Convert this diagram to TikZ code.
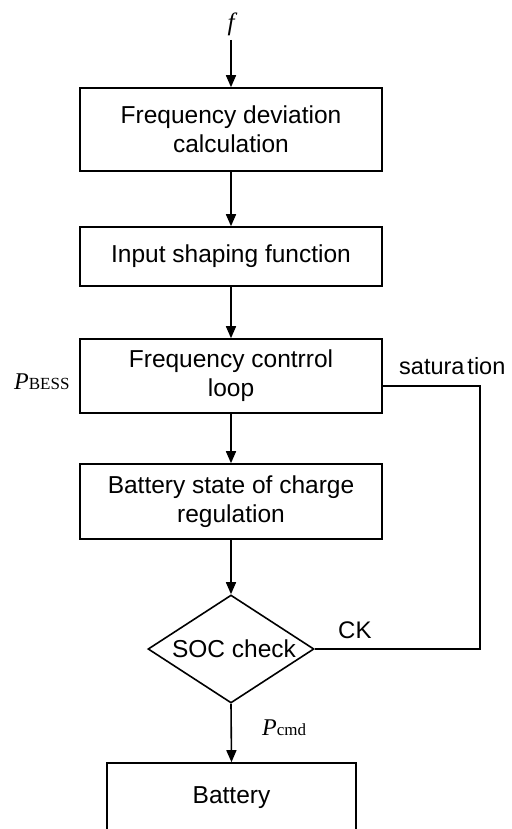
\documentclass[tikz,border=0pt]{standalone}
\usepackage{fontspec}
\setmainfont{Liberation Sans}
\newfontfamily\tnr{Liberation Serif}
\usetikzlibrary{arrows.meta,shapes.geometric}
\tikzset{
  blk/.style={draw,line width=1.6pt,rectangle,minimum width=302pt,align=center,inner sep=0pt,
    font=\fontsize{24.5}{29}\selectfont},
  lnk/.style={line width=1.6pt,-{Triangle[length=12pt,width=10pt]}},
  fb/.style={line width=1.6pt},
  lbl/.style={inner sep=0pt,anchor=base west,font=\fontsize{24}{29}\selectfont},
  mth/.style={inner sep=0pt,anchor=base west,font=\tnr\fontsize{24}{28}\selectfont}
}
\newcommand{\sbs}[1]{{\fontsize{17}{19}\selectfont #1}}
\begin{document}
\begin{tikzpicture}[x=1pt,y=-1pt]
\useasboundingbox (0,0) rectangle (511,829);
\clip (0,0) rectangle (511,829);
\node[inner sep=0pt,anchor=base,font=\tnr\itshape\fontsize{25}{28}\selectfont] (f) at (231,31) {f};
\coordinate (fs) at (231,40);
\node[blk,minimum height=83pt] (b1) at (231,129.5) {Frequency deviation\\calculation};
\node[blk,minimum height=59pt] (b2) at (231,256.5) {Input shaping function};
\node[blk,minimum height=74pt] (b3) at (231,376) {Frequency contrrol\\loop};
\node[blk,minimum height=75pt] (b4) at (231,501.5) {Battery state of charge\\regulation};
\node[draw,line width=1.6pt,diamond,shape aspect=1.54,minimum width=166pt,minimum height=108pt,inner sep=0pt,
  font=\fontsize{24.5}{29}\selectfont] (d) at (231,649) {\raisebox{-2pt}{\hspace{6pt}SOC check}};
\node[blk,minimum width=249pt,minimum height=70pt] (bat) at (231.5,798) {\raisebox{-8pt}{Battery}};
\draw[lnk] (fs) -- (b1.north);
\draw[lnk] (b1.south) -- (b2.north);
\draw[lnk] (b2.south) -- (b3.north);
\draw[lnk] (b3.south) -- (b4.north);
\draw[lnk] (b4.south) -- (d.north);
\draw[lnk] (d.south) -- (bat.north);
\coordinate (c1) at (480,386);
\coordinate (c2) at (480,649);
\draw[fb] (b3.east |- c1) -- (c1) -- (c2) -- (d.east);
\node[lbl,font=\fontsize{23.5}{28}\selectfont] (sat) at (399,374) {satura\hspace{3pt}tion};
\node[lbl] (ck) at (338,638) {CK};
\node[mth] (pb) at (14,389) {\textit{P}\sbs{BESS}};
\node[mth] (pc) at (262,735) {\textit{P}\sbs{cmd}};
\end{tikzpicture}
\end{document}
